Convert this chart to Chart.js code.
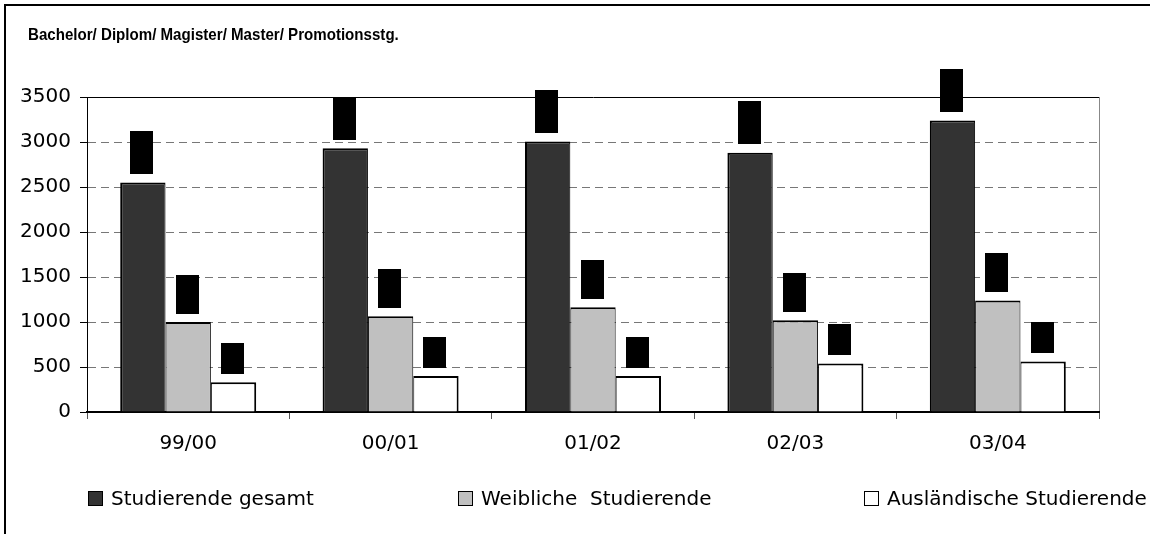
<!DOCTYPE html>
<html lang="de">
<head>
<meta charset="utf-8">
<title>Studierende</title>
<script src="https://cdn.jsdelivr.net/npm/chart.js@4.4.1/dist/chart.umd.min.js"></script>
<style>
    html, body {
        margin: 0;
        padding: 0;
        background: #fff;
    }
    .chart-wrap {
        position: relative;
        width: 1150px;
        height: 534px;
        overflow: hidden;
    }
    .frame {
        position: absolute;
        left: 4px;
        top: 4px;
        right: -10px;
        bottom: -10px;
        border-left: 2px solid #000;
        border-top: 2px solid #000;
        pointer-events: none;
    }
    .chart-title {
        position: absolute;
        left: 28px;
        top: 25px;
        font-family: "Liberation Sans", Arial, sans-serif;
        font-weight: bold;
        font-size: 16.5px;
        line-height: normal;
        color: #000;
        white-space: pre;
        transform: scaleX(0.915);
        transform-origin: left top;
    }
    .legend-item {
        position: absolute;
        top: 486px;
        font-family: "DejaVu Sans", sans-serif;
        font-size: 20px;
        color: #000;
        white-space: pre;
        line-height: normal;
    }
    .legend-box {
        position: absolute;
        top: 5px;
        left: 0;
        width: 13px;
        height: 13px;
        border: 1px solid #000;
    }
    .legend-text {
        position: absolute;
        top: 0;
        left: 23px;
    }
</style>
</head>
<body>
<div class="chart-wrap">
    <canvas id="students"></canvas>
    <div class="chart-title" id="title"></div>
    <div id="legend"></div>
    <div class="frame"></div>
</div>

<script>
    const chartTitle = 'Bachelor/ Diplom/ Magister/ Master/ Promotionsstg.';
    const semesters = ['99/00', '00/01', '01/02', '02/03', '03/04'];
    const seriesNames = ['Studierende gesamt', 'Weibliche  Studierende', 'Ausländische Studierende'];
    const totalStudents = [2550, 2930, 3005, 2880, 3240];
    const femaleStudents = [1000, 1065, 1165, 1020, 1240];
    const foreignStudents = [330, 400, 400, 540, 560];
    const yTicks = [0, 500, 1000, 1500, 2000, 2500, 3000, 3500];

    const seriesColors = ['#333333', '#c0c0c0', '#ffffff'];
    const legendLeft = [88, 458, 864];
    // height of the black label boxes above the bars, one per series
    const labelBoxLength = [43, 39, 31];

    const tickFont = {family: '"DejaVu Sans", sans-serif', size: 20};

    document.getElementById('title').textContent = chartTitle;

    // black boxes sitting above every bar (covered value labels)
    const labelBoxes = {
        id: 'labelBoxes',
        afterDatasetsDraw(chart) {
            const ctx = chart.ctx;
            ctx.save();
            ctx.fillStyle = '#000';
            chart.data.datasets.forEach((dataset, i) => {
                const meta = chart.getDatasetMeta(i);
                meta.data.forEach(bar => {
                    const h = labelBoxLength[i];
                    ctx.fillRect(Math.round(bar.x - 12.5), Math.round(bar.y - 8.5 - h), 23, h);
                });
            });
            ctx.restore();
        }
    };

    const borders = [
        {top: 2, left: 2, right: 1, bottom: 0},
        {top: 2, left: 1, right: 1, bottom: 0},
        {top: 2, left: 1, right: 2, bottom: 0}
    ];

    const data = {
        labels: semesters,
        datasets: [totalStudents, femaleStudents, foreignStudents].map((values, i) => ({
            label: seriesNames[i],
            data: values,
            backgroundColor: seriesColors[i],
            borderColor: '#000',
            borderWidth: borders[i],
            borderSkipped: false,
            categoryPercentage: 0.672,
            barPercentage: 1.0
        }))
    };

    new Chart(document.getElementById('students'), {
        type: 'bar',
        data: data,
        plugins: [labelBoxes],
        options: {
            responsive: true,
            maintainAspectRatio: false,
            animation: false,
            events: [],
            layout: {
                padding: {left: 10, right: 51, top: 97, bottom: 65}
            },
            plugins: {
                legend: {display: false},
                tooltip: {enabled: false},
                title: {display: false}
            },
            scales: {
                x: {
                    offset: true,
                    grid: {
                        offset: true,
                        display: true,
                        drawOnChartArea: true,
                        // only the closing line on the right of the plot area is visible
                        color: ctx => ctx.type === 'scale' ? '#888' : 'rgba(0,0,0,0)',
                        tickColor: '#555',
                        tickLength: 7,
                        lineWidth: 1
                    },
                    border: {display: true, color: '#000', width: 2},
                    ticks: {
                        color: '#000',
                        font: tickFont,
                        padding: 13,
                        maxRotation: 0
                    }
                },
                y: {
                    min: 0,
                    max: 3500,
                    afterBuildTicks: scale => {
                        scale.ticks = yTicks.map(v => ({value: v}));
                    },
                    afterFit: scale => {
                        scale.width = 77;
                    },
                    grid: {
                        color: ctx => ctx.tick && ctx.tick.value === 3500 ? '#000' : '#777',
                        tickColor: '#000',
                        tickLength: 7,
                        lineWidth: 1
                    },
                    border: {
                        display: true,
                        color: '#000',
                        width: 1,
                        dash: ctx => ctx.tick && ctx.tick.value === 3500 ? [] : [8, 5]
                    },
                    ticks: {
                        color: '#000',
                        font: tickFont,
                        padding: 9,
                        callback: value => String(value)
                    }
                }
            }
        }
    });

    // legend underneath the chart
    const legend = document.getElementById('legend');
    seriesNames.forEach((name, i) => {
        const item = document.createElement('div');
        item.className = 'legend-item';
        item.style.left = legendLeft[i] + 'px';
        const box = document.createElement('span');
        box.className = 'legend-box';
        box.style.background = seriesColors[i];
        const text = document.createElement('span');
        text.className = 'legend-text';
        text.textContent = name;
        item.appendChild(box);
        item.appendChild(text);
        legend.appendChild(item);
    });
</script>
</body>
</html>
